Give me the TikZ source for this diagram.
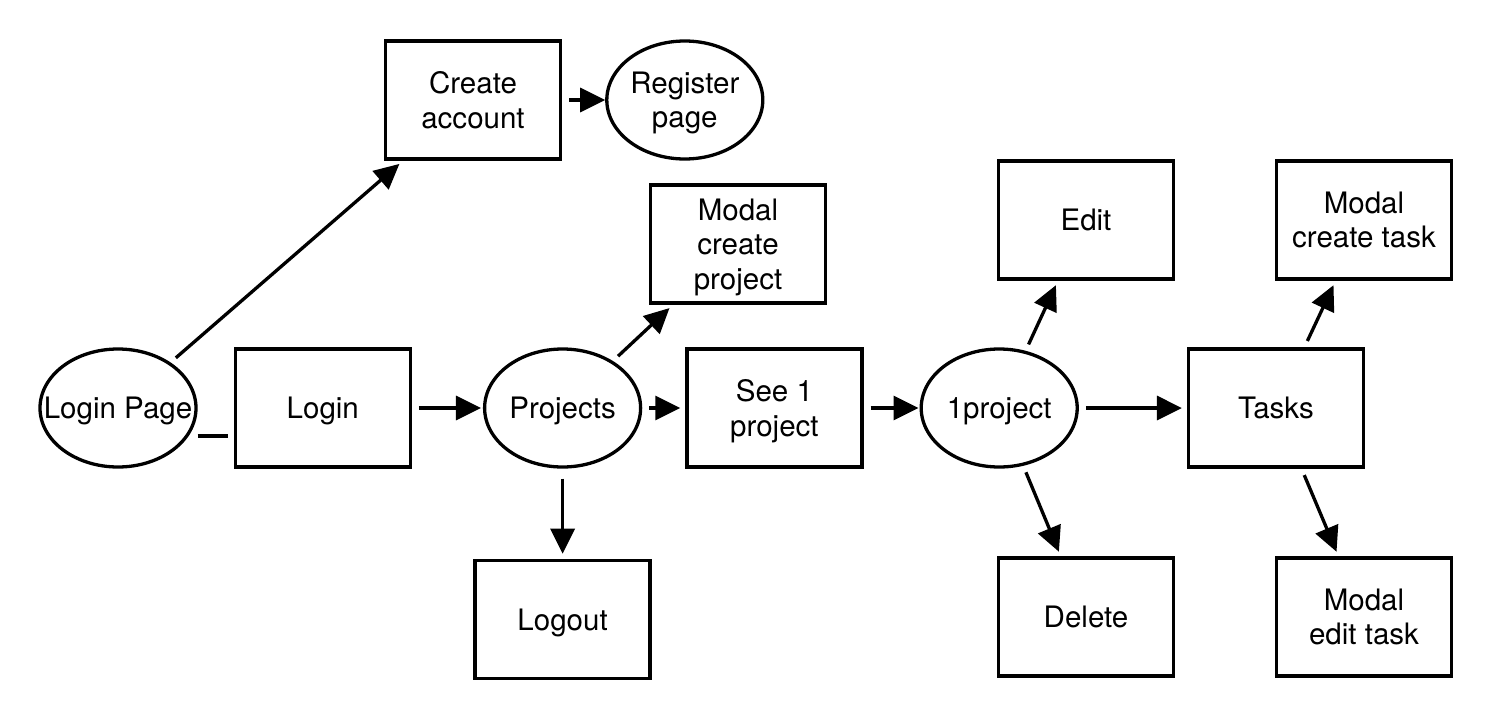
\documentclass[tikz,border=0pt]{standalone}
\usepackage{fontspec}
\setmainfont{TeX Gyre Heros}
\usetikzlibrary{shapes.geometric, arrows.meta, positioning}
\tikzstyle{screen} = [rectangle, minimum width=1.75cm, minimum height=1.18cm, text depth=0pt, text centered, align=center, draw=black, line width=0.033cm]
\tikzstyle{page} = [ellipse, minimum width=1.56cm, minimum height=1.18cm, inner sep=0pt, text depth=0pt, text centered, align=center, draw=black, line width=0.033cm]
\tikzstyle{arrow} = [line width=0.033cm, -{Triangle[length=0.25cm, width=0.24cm]}, shorten <=0.07cm, shorten >=0.05cm]
\tikzstyle{joinline} = [line width=0.033cm, shorten >=0.06cm]

\begin{document}
\begin{tikzpicture}[font=\fontsize{8.4}{9.8}\selectfont]
    \useasboundingbox (0,0) rectangle (14.93,7.18);
    % main row
    \node (loginpage) [page] at (1.18, 3.10) {\makebox[0pt]{Login Page}};
    \node (login) [screen, right=0.36cm of loginpage] {Login};
    \node (projects) [page, right=0.71cm of login] {Projects};
    \node (seeone) [screen, right=0.43cm of projects] {See 1\\project};
    \node (oneproject) [page, right=0.56cm of seeone] {1project};
    \node (tasks) [screen, right=1.08cm of oneproject] {Tasks};

    % register branch
    \node (create) [screen] at (4.73, 6.18) {Create\\account};
    \node (register) [page, right=0.43cm of create] {Register\\page};

    % project and task branches
    \node (modalproj) [screen] at (7.38, 4.74) {Modal\\create\\project};
    \node (logout) [screen, below=0.9cm of projects] {Logout};
    \node (edit) [screen] at (10.86, 4.98) {Edit};
    \node (delete) [screen] at (10.86, 1.01) {Delete};
    \node (modalcreate) [screen] at (13.64, 4.98) {Modal\\create task};
    \node (modaledit) [screen] at (13.64, 1.01) {Modal\\edit task};

    \draw [arrow] (loginpage) -- (create);
    \draw [joinline] ([yshift=-0.28cm]loginpage.east) -- ([yshift=-0.28cm]login.west);
    \draw [arrow, shorten >=0.02cm] (login) -- (projects);
    \draw [arrow, shorten >=0cm] (create) -- (register);
    \draw [arrow] (projects) -- (modalproj);
    \draw [arrow] (projects) -- (seeone);
    \draw [arrow, shorten <=0.1cm] (projects) -- (logout);
    \draw [arrow, shorten >=0.01cm] (seeone) -- (oneproject);
    \draw [arrow] (oneproject) -- (edit);
    \draw [arrow] (oneproject) -- (delete);
    \draw [arrow] (oneproject) -- (tasks);
    \draw [arrow] (tasks) -- (modalcreate);
    \draw [arrow] (tasks) -- (modaledit);
\end{tikzpicture}
\end{document}
